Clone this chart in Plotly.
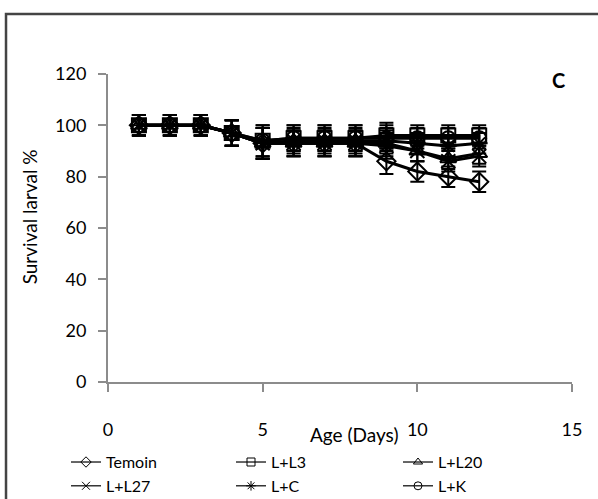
import plotly.graph_objects as go

days = [1, 2, 3, 4, 5, 6, 7, 8, 9, 10, 11, 12]
names = ["Temoin", "L+L3", "L+L20", "L+L27", "L+C", "L+K"]
temoin = [100, 100, 100, 97, 93, 93, 93, 93, 86, 82, 80, 78]
l_l3 = [100, 100, 100, 97, 94, 95, 95, 95, 96, 96, 96, 96]
l_l20 = [100, 100, 100, 97, 93, 93, 93, 93, 93, 90, 87, 89]
l_l27 = [100, 100, 100, 97, 93, 93, 93, 93, 92, 90, 86, 88]
l_c = [100, 100, 100, 97, 93, 94, 94, 94, 94, 93, 92, 93]
l_k = [100, 100, 100, 97, 94, 95, 95, 95, 95, 95, 95, 95]
errors = [4, 4, 4, 5, 6, 5, 5, 5, 5, 4, 4, 4]
symbols = ["diamond-open", "square-open", "triangle-up-open", "x-thin-open", "asterisk-open", "circle-open"]
series = [temoin, l_l3, l_l20, l_l27, l_c, l_k]
x_ticks = [0, 5, 10, 15]
y_ticks = [0, 20, 40, 60, 80, 100, 120]

FONT = "Lato"
fig = go.Figure()
for name, vals, sym in zip(names, series, symbols):
    fig.add_trace(go.Scatter(
        x=days, y=vals, name=name, mode="lines+markers", showlegend=False,
        line=dict(color="black", width=3),
        marker=dict(symbol=sym, size=14, color="black", line=dict(width=2, color="black")),
        error_y=dict(type="data", array=errors, color="black", thickness=2, width=7),
    ))
# legend-only entries (thin line, small marker) laid out in 3 columns x 2 rows
legend_ids = ["legend", "legend2", "legend3", "legend", "legend2", "legend3"]
for name, sym, lg in zip(names, symbols, legend_ids):
    fig.add_trace(go.Scatter(
        x=[None], y=[None], name=name, mode="lines+markers", legend=lg,
        line=dict(color="black", width=1.2),
        marker=dict(symbol=sym, size=8, color="black", line=dict(width=1, color="black")),
    ))

axis_col = "#8c8c8c"
legend_common = dict(orientation="v", yref="container", xref="container", y=0.108,
                     xanchor="left", yanchor="top", font=dict(size=16, family=FONT),
                     tracegroupgap=0, bgcolor="rgba(0,0,0,0)")
fig.update_layout(
    width=598, height=499,
    margin=dict(l=108, r=26, t=74, b=117, autoexpand=False),
    paper_bgcolor="white", plot_bgcolor="white",
    font=dict(family=FONT, size=17, color="black"),
    showlegend=True,
    legend=dict(x=66 / 598, **legend_common),
    legend2=dict(x=231 / 598, **legend_common),
    legend3=dict(x=398 / 598, **legend_common),
    xaxis=dict(range=[0, 15], tickvals=x_ticks, showgrid=False, zeroline=False,
               showline=True, linecolor=axis_col, linewidth=2, ticks="outside",
               ticklen=8, tickcolor=axis_col, tickwidth=2, tickfont=dict(size=18),
               ticklabelstandoff=22),
    yaxis=dict(range=[0, 120], tickvals=y_ticks, showgrid=False, zeroline=False,
               showline=True, linecolor=axis_col, linewidth=2, ticks="outside",
               ticklen=8, tickcolor=axis_col, tickwidth=2, tickfont=dict(size=18),
               ticklabelstandoff=8),
    annotations=[
        dict(text="Age (Days)", x=0.53, y=-0.17, xref="paper", yref="paper",
             showarrow=False, font=dict(size=19), xanchor="center", yanchor="middle"),
        dict(text="Survival larval %", x=-0.17, y=0.535, xref="paper", yref="paper",
             textangle=-90, showarrow=False, font=dict(size=19),
             xanchor="center", yanchor="middle"),
        dict(text="<b>C</b>", x=0.97, y=0.98, xref="paper", yref="paper",
             showarrow=False, font=dict(size=20), xanchor="center", yanchor="middle"),
    ],
    shapes=[dict(type="rect", xref="paper", yref="paper", x0=-0.2198, y0=-0.6,
                 x1=1.3, y1=1.1948, line=dict(color="#444444", width=2.5))],
)
fig.write_html("out.html")
